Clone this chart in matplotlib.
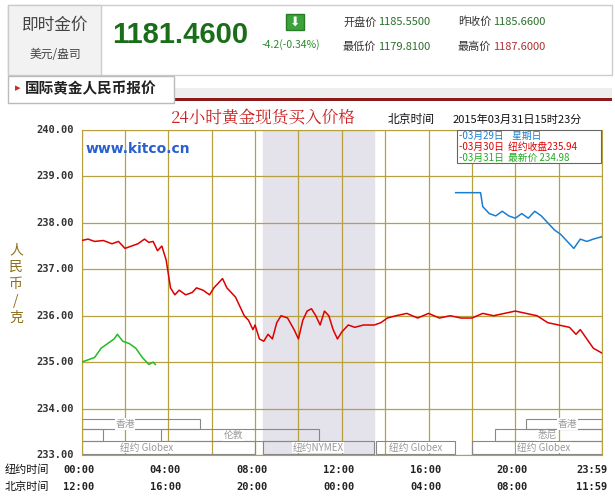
import matplotlib
matplotlib.use("Agg")
import matplotlib.pyplot as plt
from matplotlib.patches import Rectangle, FancyArrow

plt.rcParams['font.family'] = ['Noto Sans CJK SC', 'DejaVu Sans']

red_h = [0,0.3,0.6,1.0,1.4,1.7,2.0,2.3,2.6,2.9,3.1,3.3,3.5,3.7,3.9,4.0,4.1,4.3,4.5,4.8,5.1,5.3,5.6,5.9,6.1,6.3,6.5,6.7,6.9,7.1,7.3,7.5,7.7,7.9,8.0,8.2,8.4,8.6,8.8,9.0,9.2,9.5,9.8,10.0,10.2,10.4,10.6,10.8,11.0,11.2,11.4,11.6,11.8,12.0,12.3,12.6,13.0,13.5,13.8,14.1,14.5,15.0,15.5,16.0,16.5,17.0,17.5,18.0,18.5,19.0,19.5,20.0,20.5,21.0,21.5,22.0,22.5,22.8,23.0,23.3,23.6,23.98]
red_v = [237.62,237.65,237.6,237.62,237.55,237.6,237.45,237.5,237.55,237.65,237.58,237.6,237.4,237.5,237.2,236.9,236.6,236.45,236.55,236.45,236.5,236.6,236.55,236.45,236.6,236.7,236.8,236.6,236.5,236.4,236.2,236.0,235.9,235.7,235.8,235.5,235.45,235.6,235.5,235.85,236.0,235.95,235.7,235.5,235.9,236.1,236.15,236.0,235.8,236.1,236.0,235.7,235.5,235.65,235.8,235.75,235.8,235.8,235.85,235.95,236.0,236.05,235.95,236.05,235.95,236.0,235.95,235.95,236.05,236.0,236.05,236.1,236.05,236.0,235.85,235.8,235.75,235.6,235.7,235.5,235.3,235.2]
blue_h = [17.25,18.4,18.5,18.8,19.1,19.4,19.7,20.0,20.3,20.6,20.9,21.2,21.5,21.8,22.1,22.4,22.7,23.0,23.3,23.6,23.98]
blue_v = [238.65,238.65,238.35,238.2,238.15,238.25,238.15,238.1,238.2,238.1,238.25,238.15,238.0,237.85,237.75,237.6,237.45,237.65,237.6,237.65,237.7]
green_h = [0,0.3,0.6,0.9,1.2,1.5,1.65,1.9,2.2,2.5,2.8,3.1,3.3,3.4]
green_v = [235.0,235.05,235.1,235.3,235.4,235.5,235.6,235.45,235.4,235.3,235.1,234.95,235.0,234.95]
ny_labels = ["00:00","04:00","08:00","12:00","16:00","20:00","23:59"]
bj_labels = ["12:00","16:00","20:00","00:00","04:00","08:00","11:59"]
label_hours = [0,4,8,12,16,20,23.98]
yticks = [233,234,235,236,237,238,239,240]

W, H = 615, 500
fig = plt.figure(figsize=(6.15,5.0), dpi=100)
fig.patch.set_facecolor('white')
def P(x, y): return (x/W, 1-y/H)
def T(x, y, s, **kw): fig.text(*P(x, y), s, **kw)

# header
fig.patches.append(Rectangle(P(8,75), 604/W, 70/H, transform=fig.transFigure, fc='white', ec='#cccccc', lw=1))
fig.patches.append(Rectangle(P(8,75), 93/W, 70/H, transform=fig.transFigure, fc='#f2f2f2', ec='#cccccc', lw=1))
T(55,25,"即时金价", ha='center', va='center', fontsize=12, color='#444444')
T(55,55,"美元/盎司", ha='center', va='center', fontsize=8.5, color='#444444')
T(112,35,"1181.4600", ha='left', va='center', fontsize=21, fontweight='bold', color='#1a6e1a', family='Liberation Sans')
fig.patches.append(Rectangle(P(286,30), 18/W, 16/H, transform=fig.transFigure, fc='#3aa33a', ec='#2a7a2a'))
T(295,22,"⬇", ha='center', va='center', fontsize=9, color='white', family='DejaVu Sans')
T(262,45,"-4.2(-0.34%)", ha='left', va='center', fontsize=7.5, color='#2a8a2a')
T(343,22,"开盘价", ha='left', va='center', fontsize=8, color='#333333')
T(378,22,"1185.5500", ha='left', va='center', fontsize=8, color='#2a6e2a')
T(458,22,"昨收价", ha='left', va='center', fontsize=8, color='#333333')
T(493,22,"1185.6600", ha='left', va='center', fontsize=8, color='#2a6e2a')
T(343,47,"最低价", ha='left', va='center', fontsize=8, color='#333333')
T(378,47,"1179.8100", ha='left', va='center', fontsize=8, color='#2a6e2a')
T(458,47,"最高价", ha='left', va='center', fontsize=8, color='#333333')
T(493,47,"1187.6000", ha='left', va='center', fontsize=8, color='#b03030')

# tab
fig.patches.append(Rectangle(P(170,98), 442/W, 10/H, transform=fig.transFigure, fc='#eeeeee', ec='none'))
fig.patches.append(Rectangle(P(170,101), 442/W, 3/H, transform=fig.transFigure, fc='#8b1a1a', ec='none'))
fig.patches.append(Rectangle(P(8,103), 166/W, 27/H, transform=fig.transFigure, fc='white', ec='#bbbbbb'))
T(15,88,"▸", ha='left', va='center', fontsize=8, color='#c03020', family='DejaVu Sans')
T(25,88,"国际黄金人民币报价", ha='left', va='center', fontsize=10.5, fontweight='bold', color='#222222')

# title
T(263,118,"24小时黄金现货买入价格", ha='center', va='center', fontsize=12, color='#cc2020', family=['Noto Serif CJK SC','Noto Sans CJK SC'])
T(388,120,"北京时间", ha='left', va='center', fontsize=8.5, color='#111111')
T(453,120,"2015年03月31日15时23分", ha='left', va='center', fontsize=8, color='#111111')

ax = fig.add_axes([81.6/W, 1-455/H, (602-81.6)/W, (455-130)/H])
gc = '#b8a040'
ax.set_xlim(0, 24); ax.set_ylim(233, 240)
ax.axvspan(8.35, 13.5, color='#e4e2ea', zorder=0)
for h in range(0, 25, 2):
    ax.axvline(h, color=gc, lw=0.9, zorder=1)
for v in yticks:
    ax.axhline(v, color=gc, lw=0.9, zorder=1)
for s in ax.spines.values():
    s.set_color(gc)
ax.set_xticks([]); ax.set_yticks([])
for v in yticks:
    ax.text(-0.35, v, f"{v:.2f}", ha='right', va='center', fontsize=7.5, fontweight='bold', family='DejaVu Sans Mono', color='#333333')

# sessions
bc = '#888888'
rows = {'hk': (233.55, 233.78), 'ld': (233.3, 233.55), 'ny': (233.02, 233.3)}
sess = [(0,5.45,'hk','香港',2.0),(20.5,24,'hk','香港',22.4),(0,0.97,'ld','',None),(3.65,10.97,'ld','伦敦',7.0),
        (19.05,24,'ld','悉尼',21.5),(0,8.0,'ny','纽约 Globex',3.0),(8.35,13.5,'ny','纽约NYMEX',10.9),
        (13.6,17.2,'ny','纽约 Globex',15.4),(18.0,24,'ny','纽约 Globex',21.3)]
for a,b,r,lab,cx in sess:
    y0,y1 = rows[r]
    ax.add_patch(Rectangle((a,y0), b-a, y1-y0, fc='none', ec=bc, lw=0.8, zorder=2))
    if lab:
        ax.text(cx, (y0+y1)/2, lab, ha='center', va='center', fontsize=7, color='#999999', zorder=3,
                bbox=dict(fc='white', ec='none', pad=0.5))

ax.plot(red_h, red_v, color='#dd0000', lw=1.1, zorder=4)
ax.plot(blue_h, blue_v, color='#1a7fd0', lw=1.1, zorder=4)
ax.plot(green_h, green_v, color='#22bb22', lw=1.1, zorder=4)

ax.text(0.2, 239.6, "www.kitco.cn", ha='left', va='center', fontsize=10, fontweight='bold', color='#2a5fd0', family='DejaVu Sans')

# legend box
ax.add_patch(Rectangle((17.3, 239.28), 6.65, 0.72, fc='white', ec='#666666', lw=0.8, zorder=5))
leg = [("-03月29日    星期日", '#1a7fd0'), ("-03月30日  纽约收盘235.94", '#dd0000'), ("-03月31日  最新价 234.98", '#22aa22')]
for i,(s,c) in enumerate(leg):
    ax.text(17.4, 239.88-0.24*i, s, ha='left', va='center', fontsize=7, color=c, zorder=6)

# x labels
T(5,470,"纽约时间", ha='left', va='center', fontsize=8, color='#111111')
T(5,487,"北京时间", ha='left', va='center', fontsize=8, color='#111111')
for h,a,b in zip(label_hours, ny_labels, bj_labels):
    x = 81.6 + h*(602-81.6)/24
    if h > 23: x -= 10
    else: x -= 3
    T(x,470,a, ha='center', va='center', fontsize=7.5, fontweight='bold', family='DejaVu Sans Mono', color='#222222')
    T(x,487,b, ha='center', va='center', fontsize=7.5, fontweight='bold', family='DejaVu Sans Mono', color='#222222')

# y label
for i,ch in enumerate("人民币/克"):
    T(16, 250+i*17 if ch!='/' else 250+i*17, ch, ha='center', va='center', fontsize=10, color='#8b6f1a', rotation=0 if ch!='/' else 0)

fig.savefig("out.png", dpi=100)
